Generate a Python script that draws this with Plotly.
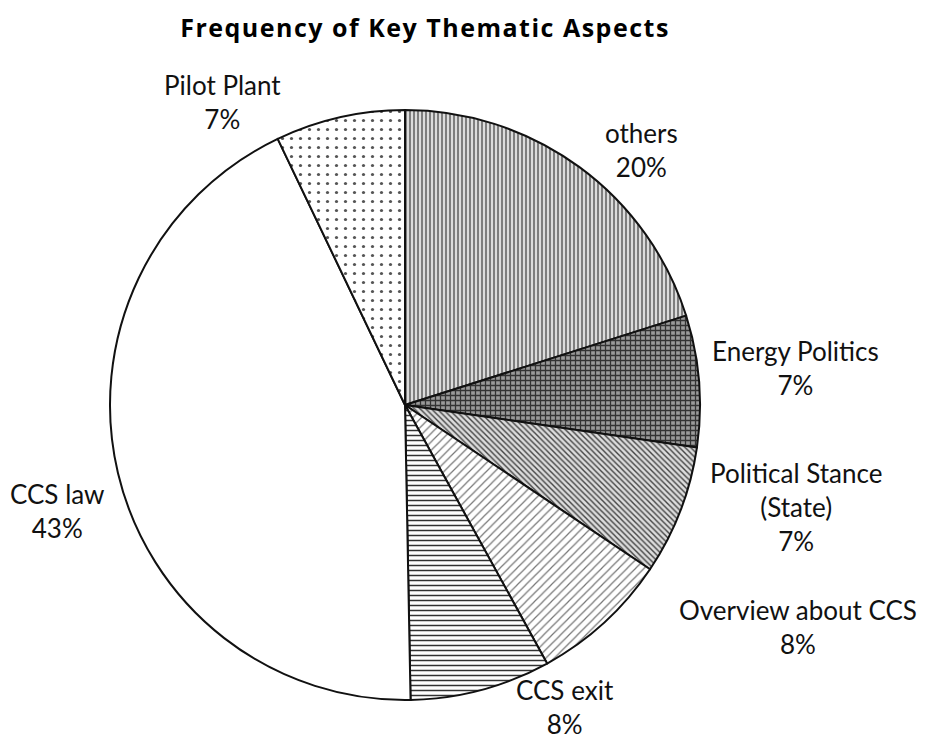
import math
import plotly.graph_objects as go

labels = ["others", "Energy Politics", "Political Stance<br>(State)", "Overview about CCS",
          "CCS exit", "CCS law", "Pilot Plant"]
values = [20.1, 7.2, 7.1, 7.6, 7.7, 43.2, 7.1]

# label placement (style): angular nudge from the slice mid-angle (deg) and radial factor
label_nudge = [6.6, -0.7, -6.4, -18.0, -13.0, -3.6, -18.3]
label_dist = [1.18, 1.33, 1.37, 1.53, 1.16, 1.23, 1.20]

shapes = ["|", "+", "\\", "/", "-", "", "."]
fgcolors = ["#666666", "#333333", "#444444", "#777777", "#333333", "#ffffff", "#555555"]
bgcolors = ["#dcdcdc", "#9a9a9a", "#dcdcdc", "#ffffff", "#ffffff", "#ffffff", "#ffffff"]
sizes = [4, 5, 4, 6, 5, 8, 9]
solid = [0.4, 0.45, 0.35, 0.2, 0.3, 0.3, 0.1]

W, H = 933, 740
# page body offset compensation
OX, OY = 8, 6
cx, cy, R = 405 - OX, 403 - OY, 295

FONT = "Lato, 'Open Sans', sans-serif"

fig = go.Figure(go.Pie(
    labels=labels,
    values=values,
    sort=False,
    direction="clockwise",
    rotation=0,
    textinfo="none",
    marker=dict(
        colors=bgcolors,
        line=dict(color="#111111", width=2),
        pattern=dict(shape=shapes, fgcolor=fgcolors, bgcolor=bgcolors,
                     size=sizes, solidity=solid, fillmode="replace"),
    ),
    domain=dict(x=[(cx - R) / W, (cx + R) / W],
                y=[(H - cy - R) / H, (H - cy + R) / H]),
    showlegend=False,
    hoverinfo="label+percent",
))

total = sum(values)
cum = 0.0
annotations = []
for lab, v, nd, kd in zip(labels, values, label_nudge, label_dist):
    mid_deg = (cum + v / 2) / total * 360
    cum += v
    a = math.radians(mid_deg + nd)
    px = cx + kd * R * math.sin(a)
    py = cy - kd * R * math.cos(a)
    pct = round(v / total * 100)
    annotations.append(dict(
        x=px / W, y=1 - py / H, xref="paper", yref="paper",
        xanchor="center", yanchor="middle", align="center",
        text=f"{lab}<br>{pct}%", showarrow=False,
        font=dict(family=FONT, size=26, color="#111111"),
    ))

fig.update_layout(
    width=W, height=H,
    margin=dict(l=0, r=0, t=0, b=0),
    paper_bgcolor="white",
    annotations=annotations,
    title=dict(text="<span style='letter-spacing:1.5px'><b>Frequency of Key Thematic Aspects</b></span>",
               x=(425 - OX) / W, xanchor="center", y=1 - (28 - 8) / H, yanchor="middle",
               font=dict(family="'Open Sans', sans-serif", size=25, color="#000000")),
)

fig.write_html("out.html")
